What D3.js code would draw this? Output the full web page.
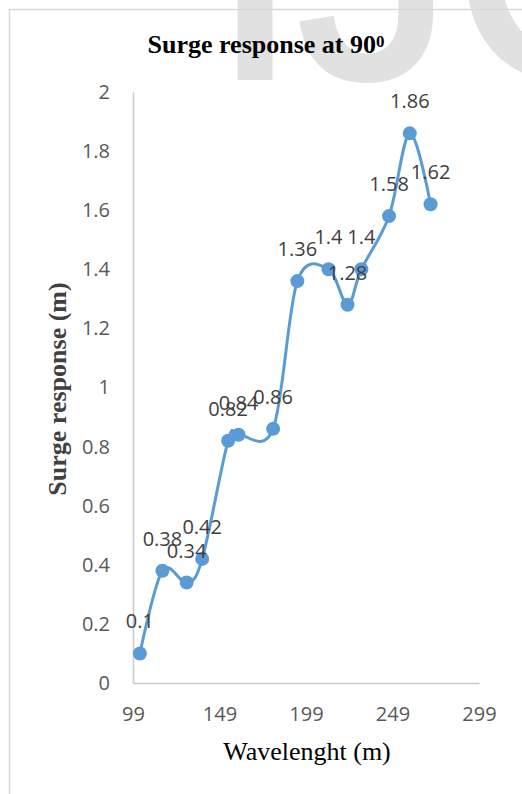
<!DOCTYPE html>
<html>
<head>
<meta charset="utf-8">
<script src="https://cdn.jsdelivr.net/npm/d3@7"></script>
<style>
  html, body { margin: 0; padding: 0; background: #fff; }
  svg { display: block; }
</style>
</head>
<body>
<div id="chart"></div>
<script>
// data
const wavelength = [103, 116, 130, 139, 154, 160, 180, 194, 212, 223, 231, 247, 259, 271];
const surge = [0.1, 0.38, 0.34, 0.42, 0.82, 0.84, 0.86, 1.36, 1.4, 1.28, 1.4, 1.58, 1.86, 1.62];
const xTicks = [99, 149, 199, 249, 299];
const yTicks = [0, 0.2, 0.4, 0.6, 0.8, 1, 1.2, 1.4, 1.6, 1.8, 2];

const data = wavelength.map((w, i) => ({x: w, y: surge[i]}));

const width = 522;
const height = 794;
const margin = ({top: 92, right: 43, bottom: 111, left: 133});

const blue = '#5b9bd5';
const labelFont = "'Open Sans', 'Noto Sans', sans-serif";
const serif = "'Liberation Serif', 'DejaVu Serif', serif";

const svg = d3.create('svg')
    .attr('width', width)
    .attr('height', height);

// watermark behind everything
svg.append('text')
    .attr('x', 212)
    .attr('y', 77)
    .attr('font-family', "'Liberation Sans', Arial, sans-serif")
    .attr('font-size', 310)
    .attr('fill', '#e1e1e1')
    .attr('stroke', '#e1e1e1')
    .attr('stroke-width', 6)
    .text('IJC');

// chart area border
svg.append('rect')
    .attr('x', 9.5)
    .attr('y', 9.5)
    .attr('width', 700)
    .attr('height', 900)
    .attr('fill', 'none')
    .attr('stroke', '#d9d9d9')
    .attr('stroke-width', 1.5);

// scales
const xScale = d3.scaleLinear()
    .domain([99, 299])
    .range([margin.left, width - margin.right]);

const yScale = d3.scaleLinear()
    .domain([0, 2])
    .range([height - margin.bottom, margin.top]);

// x axis
const xAxis = svg.append('g')
    .attr('transform', `translate(0, ${height - margin.bottom})`)
    .call(d3.axisBottom(xScale).tickValues(xTicks).tickSize(0).tickPadding(24));

// y axis
const yAxis = svg.append('g')
    .attr('transform', `translate(${margin.left}, 0)`)
    .call(d3.axisLeft(yScale).tickValues(yTicks).tickSize(0).tickPadding(23)
        .tickFormat(d => String(+d.toFixed(1))));

[xAxis, yAxis].forEach(g => {
    g.select('.domain').attr('stroke', '#c9c9c9').attr('stroke-width', 1.5);
    g.selectAll('text')
        .attr('font-family', labelFont)
        .attr('font-size', 20)
        .attr('fill', '#595959');
});

// smoothed line
const line = d3.line()
    .x(d => xScale(d.x))
    .y(d => yScale(d.y))
    .curve(d3.curveCardinal.tension(0));

svg.append('path')
    .datum(data)
    .attr('d', line)
    .attr('fill', 'none')
    .attr('stroke', blue)
    .attr('stroke-width', 3)
    .attr('stroke-linejoin', 'round');

svg.append('g')
    .selectAll('circle')
    .data(data)
    .join('circle')
    .attr('cx', d => xScale(d.x))
    .attr('cy', d => yScale(d.y))
    .attr('r', 7)
    .attr('fill', blue);

// data labels
svg.append('g')
    .selectAll('text')
    .data(data)
    .join('text')
    .attr('x', d => xScale(d.x))
    .attr('y', d => yScale(d.y) - 25)
    .attr('text-anchor', 'middle')
    .attr('font-family', labelFont)
    .attr('font-size', 20)
    .attr('fill', '#404040')
    .text(d => d.y);

// title
const title = svg.append('text')
    .attr('x', 266)
    .attr('y', 53)
    .attr('text-anchor', 'middle')
    .attr('font-family', serif)
    .attr('font-weight', 'bold')
    .attr('font-size', 26)
    .attr('fill', '#000');
title.append('tspan').text('Surge response at 90');
title.append('tspan').attr('font-size', 17).attr('dy', -6).text('0');

// axis titles
svg.append('text')
    .attr('x', 307)
    .attr('y', 760)
    .attr('text-anchor', 'middle')
    .attr('font-family', serif)
    .attr('font-size', 26)
    .attr('fill', '#000')
    .text('Wavelenght (m)');

svg.append('text')
    .attr('transform', 'translate(66, 389) rotate(-90)')
    .attr('text-anchor', 'middle')
    .attr('font-family', serif)
    .attr('font-weight', 'bold')
    .attr('font-size', 26)
    .attr('fill', '#404040')
    .text('Surge response (m)');

document.getElementById('chart').appendChild(svg.node());
</script>
</body>
</html>
